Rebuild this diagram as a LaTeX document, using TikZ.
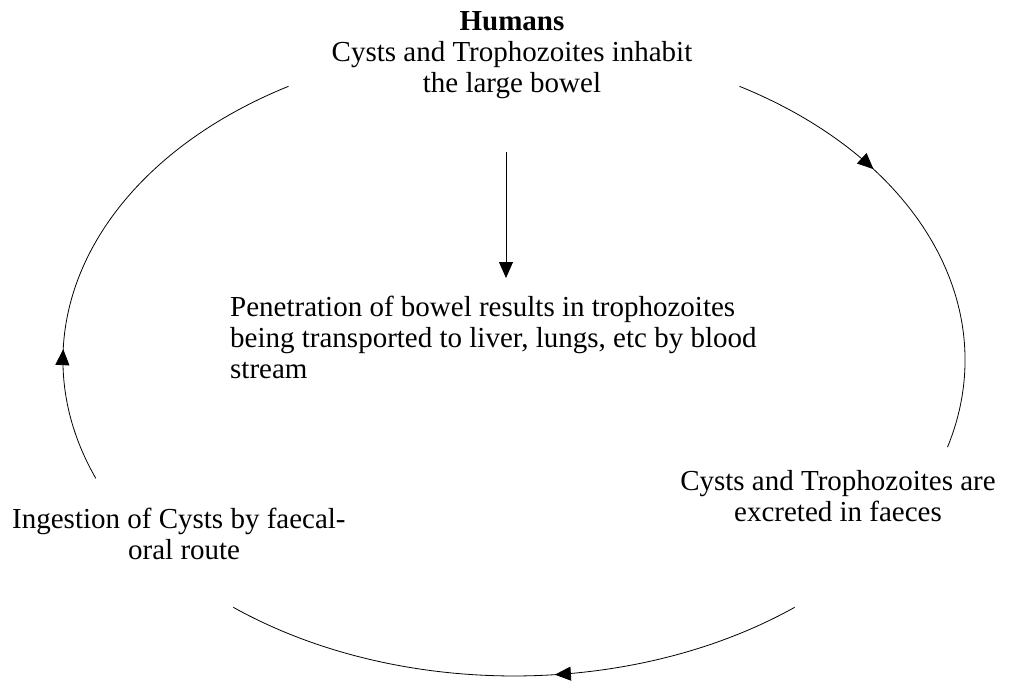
\documentclass[tikz,border=0pt]{standalone}
\usepackage{fontspec}
\setmainfont{Liberation Serif}
\usetikzlibrary{arrows.meta,decorations.markings}

\begin{document}
\begin{tikzpicture}[x=1pt,y=-1pt,
        ring/.style={line width=0.8pt},
        flowtip/.style={-{Triangle[length=16pt,width=14pt]}},
        midtip/.style={postaction={decorate},
            decoration={markings,mark=at position #1 with {\arrow{Triangle[length=16pt,width=14pt]}}}},
        txt/.style={font=\fontsize{29}{31}\selectfont, inner sep=0pt}]
        \useasboundingbox (0,0) rectangle (1013,685);
        \coordinate (ctr) at (514,360);
        \node[txt, align=center, anchor=north] (humans) at (512,11) {\textbf{Humans}\\Cysts and Trophozoites inhabit\\the large bowel};
        \node[txt, align=left, anchor=north west] (blood) at (230,296) {Penetration of bowel results in trophozoites\\being transported to liver, lungs, etc by blood\\stream};
        \node[txt, align=center, anchor=north] (faeces) at (838,470) {Cysts and Trophozoites are\\excreted in faeces};
        \node[txt, align=left, anchor=north west] (ingest) at (12,508) {Ingestion of Cysts by faecal-\\\hspace*{116pt}oral route};
        \coordinate (dTop) at (506,152);
        \coordinate (dEnd) at (506,278);
        \path (ctr) ++(158:451 and 316) coordinate (lA);
        \path (ctr) ++(-60:451 and 316) coordinate (rA);
        \path (ctr) ++(51.5:451 and 316) coordinate (bA);
        \draw[ring, flowtip] (dTop) -- (dEnd);
        \draw[ring, midtip=0.27] (lA) arc[start angle=158, end angle=240, x radius=451, y radius=316];
        \draw[ring, midtip=0.34] (rA) arc[start angle=-60, end angle=16, x radius=451, y radius=316];
        \draw[ring, midtip=0.43] (bA) arc[start angle=51.5, end angle=128.5, x radius=451, y radius=316];
    \end{tikzpicture}
\end{document}
